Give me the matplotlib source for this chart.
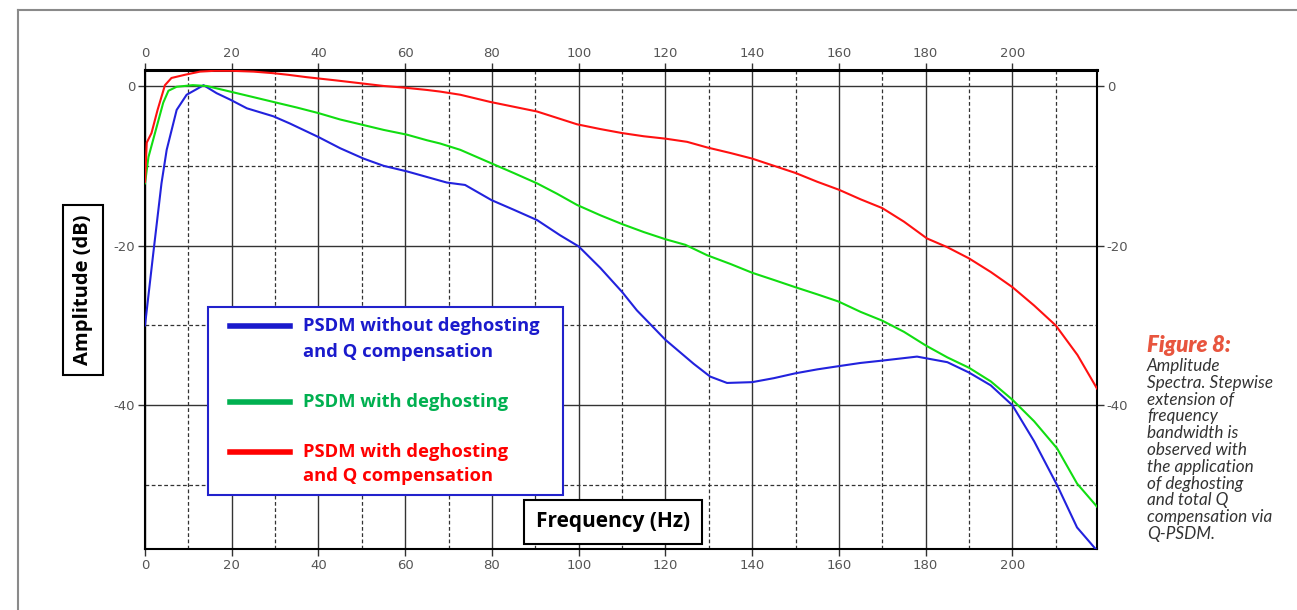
import numpy as np
import matplotlib
matplotlib.use("Agg")
import matplotlib.pyplot as plt
from matplotlib.lines import Line2D
from matplotlib.patches import Rectangle
from matplotlib.ticker import MultipleLocator

plt.rcParams["axes.unicode_minus"] = False

# --- data (frequency in Hz, amplitude in dB) ---
red_f = [0, 0.4, 1.5, 2.9, 4.6, 6.1, 9.2, 12.7, 16, 20, 25, 29.6, 33, 37.3, 44, 50.3, 55, 59.6,
         65, 68, 72.7, 79.6, 85, 90.4, 95, 99.6, 105, 110, 115, 120, 125, 129.6, 135, 140, 145,
         150, 155, 160, 165, 170, 175, 180.3, 185, 190, 195, 200, 205, 210, 215, 219.5]
red_db = [-12, -7.1, -5.9, -3, 0.1, 1, 1.4, 1.8, 1.9, 1.9, 1.8, 1.6, 1.4, 1.1, 0.7, 0.3, 0.0, -0.2,
          -0.5, -0.7, -1.1, -2.0, -2.6, -3.2, -4.0, -4.8, -5.4, -5.9, -6.3, -6.6, -7.0, -7.7, -8.4,
          -9.1, -10.0, -10.9, -12.0, -13.0, -14.2, -15.3, -17.0, -19.1, -20.2, -21.6, -23.3, -25.2,
          -27.5, -30.0, -33.7, -37.9]

green_f = [0, 0.8, 2.3, 4.2, 5.4, 7.3, 11, 14.2, 19.6, 25, 29.6, 35, 40, 45, 50.4, 55, 60.4, 65,
           68, 72.7, 79.9, 85, 90.4, 95, 99.6, 105, 110, 115, 120, 124.6, 129.6, 135, 140, 145,
           149.9, 155, 159.9, 165, 170, 175, 180, 185, 190, 195, 200, 205, 210.3, 214.9, 219.5]
green_db = [-12.2, -8.9, -5.9, -2.1, -0.6, -0.1, 0.1, 0.0, -0.7, -1.4, -2.0, -2.7, -3.4, -4.2, -4.9,
            -5.5, -6.1, -6.8, -7.2, -8.0, -9.7, -10.9, -12.2, -13.5, -14.9, -16.2, -17.3, -18.3,
            -19.2, -19.9, -21.2, -22.3, -23.4, -24.3, -25.2, -26.1, -27.0, -28.3, -29.4, -30.8,
            -32.5, -34.0, -35.3, -37.0, -39.3, -42.0, -45.4, -49.8, -52.7]

blue_f = [0, 1.9, 3.8, 5, 7.3, 9.6, 11.9, 13.5, 16.5, 19.6, 23.5, 29.6, 33.4, 40, 45, 50.4, 55,
          60.4, 65, 69.6, 73.8, 79.9, 85, 90.4, 95.7, 100, 105, 110, 113.4, 120, 126.5, 130.3,
          134.2, 140, 145, 149.9, 155, 159.9, 164.9, 170, 178, 185, 190, 195, 200, 205, 210.3,
          214.9, 219.5]
blue_db = [-30, -21, -12.2, -8, -3, -1.1, -0.4, 0.1, -0.9, -1.7, -2.8, -3.8, -4.7, -6.4, -7.8,
           -9.1, -10.0, -10.7, -11.4, -12.1, -12.4, -14.3, -15.5, -16.8, -18.7, -20.1, -22.8,
           -25.8, -28.1, -31.8, -34.8, -36.4, -37.2, -37.1, -36.6, -36.0, -35.5, -35.1, -34.7,
           -34.4, -33.9, -34.6, -35.9, -37.5, -40.0, -44.5, -50.0, -55.3, -58.2]

legend_labels = [["PSDM without deghosting", "and Q compensation"],
                 ["PSDM with deghosting"],
                 ["PSDM with deghosting", "and Q compensation"]]
caption_title = "Figure 8:"
caption_lines = ["Amplitude", "Spectra. Stepwise", "extension of", "frequency", "bandwidth is",
                 "observed with", "the application", "of deghosting", "and total Q",
                 "compensation via", "Q-PSDM."]

W, H = 1297, 610
fig = plt.figure(figsize=(W / 100, H / 100), dpi=100)
fig.patch.set_facecolor("white")


def fx(px):
    return px / W


def fy(py):
    return 1 - py / H


# page frame (top and left edges)
fig.add_artist(Line2D([fx(18), 1], [fy(10), fy(10)], color="#8a8a8a", lw=1.5))
fig.add_artist(Line2D([fx(18), fx(18)], [fy(10), 0], color="#8a8a8a", lw=1.5))

ax = fig.add_axes([fx(145), fy(549), fx(1097) - fx(145), fy(70) - fy(549)])
ax.set_xlim(0, 219.5)
ax.set_ylim(-58, 2)

ax.plot(blue_f, blue_db, color="#2222dd", lw=1.5, zorder=3)
ax.plot(green_f, green_db, color="#11dd11", lw=1.5, zorder=3)
ax.plot(red_f, red_db, color="#ff1111", lw=1.5, zorder=3)

ax.xaxis.set_major_locator(MultipleLocator(20))
ax.xaxis.set_minor_locator(MultipleLocator(10))
ax.set_yticks([0, -20, -40])
ax.set_yticks([-10, -30, -50], minor=True)
ax.grid(which="major", color="#333333", lw=1.0, ls="-")
ax.grid(which="minor", color="#333333", lw=0.9, ls=(0, (3, 2)))
ax.set_axisbelow(True)

ax.tick_params(which="major", top=True, right=True, labeltop=True, labelright=True,
               direction="out", length=5, width=1, color="#333333",
               labelcolor="#555555", labelsize=9.5, pad=2)
ax.tick_params(which="minor", length=0)
for s in ax.spines.values():
    s.set_color("black")
    s.set_linewidth(1.5)
ax.spines["top"].set_linewidth(2.2)

# axis titles in boxes
fig.text(fx(83), fy(290), "Amplitude (dB)", rotation=90, ha="center", va="center",
         fontsize=14.5, fontweight="bold", family="Open Sans",
         bbox=dict(boxstyle="square,pad=0.5", fc="white", ec="black", lw=1.5))
fig.text(fx(613), fy(522), "Frequency (Hz)", ha="center", va="center",
         fontsize=15, fontweight="bold", family="Open Sans", zorder=5,
         bbox=dict(boxstyle="square,pad=0.55", fc="white", ec="black", lw=1.5))

# legend panel
fig.add_artist(Rectangle((fx(208), fy(495)), fx(563) - fx(208), fy(307) - fy(495),
                         transform=fig.transFigure, fc="white", ec="#2222cc", lw=1.5, zorder=4))
leg_colors = ["#1a1acc", "#00b050", "#ff0000"]
leg_rows = [[326, 352], [402], [452, 476]]
for col, rows, labels in zip(leg_colors, leg_rows, legend_labels):
    fig.add_artist(Line2D([fx(230), fx(290)], [fy(rows[0]), fy(rows[0])], color=col, lw=4,
                          zorder=5))
    for r, lab in zip(rows, labels):
        fig.text(fx(303), fy(r), lab, color=col, fontsize=13.2, fontweight="bold",
                 family="Open Sans", ha="left", va="center", zorder=6)

# caption
fig.text(fx(1147), fy(345), caption_title, color="#e8553e", fontsize=16, fontweight="heavy",
         fontstyle="italic", family="Lato", ha="left", va="center")
for i, line in enumerate(caption_lines):
    fig.text(fx(1147), fy(366 + i * 16.8), line, color="#333333", fontsize=12.3,
             fontstyle="italic", fontweight="normal", family="Lato", ha="left", va="center")

fig.savefig("out.png", dpi=100)
